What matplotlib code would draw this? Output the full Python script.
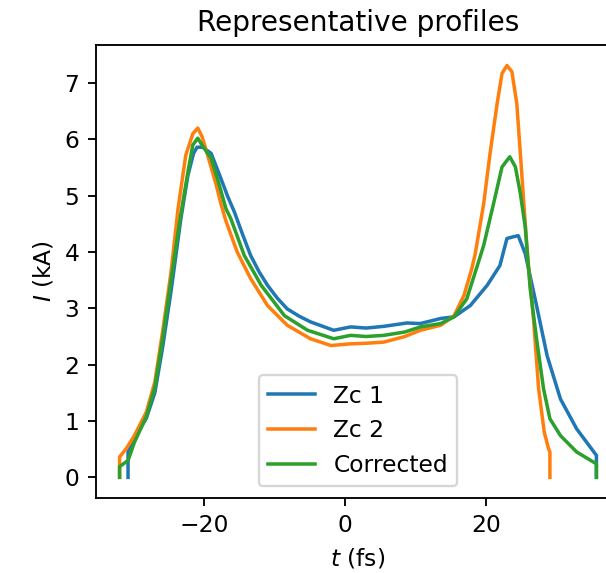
import matplotlib
matplotlib.use("Agg")
import matplotlib.pyplot as plt

# Zc 1 profile (fs, kA)
t_zc1 = [-30.8, -30.8, -29.4, -28.2, -27.0, -25.9, -24.7, -23.3, -22.3, -21.5,
         -21.0, -20.2, -19.0, -17.6, -16.7, -15.7, -14.5, -13.4, -12.2, -11.0,
         -9.6, -8.2, -6.5, -4.9, -1.6, 0.8, 3.0, 5.5, 8.8, 10.7,
         13.6, 15.5, 17.8, 20.2, 22.0, 23.0, 23.9, 24.6, 25.6, 27.2,
         28.7, 30.6, 32.9, 35.7, 35.7]
i_zc1 = [0.0, 0.45, 0.80, 1.05, 1.50, 2.30, 3.30, 4.59, 5.36, 5.75,
         5.86, 5.86, 5.75, 5.30, 5.00, 4.71, 4.30, 3.94, 3.65, 3.41,
         3.18, 2.99, 2.86, 2.76, 2.61, 2.67, 2.65, 2.68, 2.74, 2.73,
         2.82, 2.85, 3.05, 3.41, 3.76, 4.24, 4.27, 4.29, 3.97, 3.05,
         2.16, 1.39, 0.86, 0.39, 0.0]

# Zc 2 profile
t_zc2 = [-32.0, -32.0, -31.0, -29.9, -28.2, -27.0, -25.9, -24.7, -23.7, -22.6,
         -21.6, -20.9, -20.3, -19.5, -18.3, -17.6, -16.9, -15.3, -13.4, -11.0,
         -8.2, -4.9, -2.0, 0.8, 3.0, 5.5, 8.5, 10.7, 13.6, 15.5,
         16.9, 18.0, 18.5, 19.7, 20.6, 21.6, 22.3, 23.0, 23.7, 24.4,
         24.9, 25.4, 25.9, 26.8, 27.5, 28.3, 28.9, 29.1, 29.1]
i_zc2 = [0.0, 0.36, 0.52, 0.74, 1.16, 1.69, 2.58, 3.64, 4.77, 5.72,
         6.10, 6.20, 6.05, 5.72, 5.20, 4.85, 4.55, 4.00, 3.53, 3.05,
         2.70, 2.46, 2.34, 2.37, 2.38, 2.40, 2.50, 2.61, 2.70, 2.87,
         3.23, 3.70, 3.97, 4.86, 5.75, 6.63, 7.17, 7.31, 7.20, 6.63,
         5.75, 4.86, 3.97, 2.76, 1.57, 0.80, 0.51, 0.45, 0.0]

# corrected profile
t_corr = [-32.0, -32.0, -30.8, -29.9, -28.2, -27.0, -25.9, -24.7, -23.5, -22.3,
          -21.6, -20.9, -20.3, -19.0, -18.1, -16.9, -16.2, -14.3, -11.9, -8.6,
          -5.3, -1.6, 0.8, 3.0, 5.5, 8.5, 10.7, 13.6, 15.5, 17.3,
          18.8, 19.7, 21.1, 22.3, 23.4, 24.2, 24.9, 25.6, 26.3, 27.2,
          28.2, 29.1, 30.6, 32.9, 35.7, 35.7]
i_corr = [0.0, 0.19, 0.30, 0.62, 1.08, 1.60, 2.45, 3.50, 4.52, 5.42,
          5.90, 6.02, 5.90, 5.66, 5.30, 4.77, 4.59, 3.94, 3.41, 2.87,
          2.61, 2.46, 2.52, 2.50, 2.52, 2.58, 2.67, 2.73, 2.85, 3.17,
          3.76, 4.12, 4.86, 5.51, 5.69, 5.51, 5.04, 4.44, 3.35, 2.46,
          1.57, 1.04, 0.74, 0.45, 0.24, 0.0]

dpi = 168
fig = plt.figure(figsize=(606 / dpi, 573 / dpi), dpi=dpi)
ax = fig.add_axes([0.158, 0.131, 0.8655, 0.7906])

ax.plot(t_zc1, i_zc1, label="Zc 1")
ax.plot(t_zc2, i_zc2, label="Zc 2")
ax.plot(t_corr, i_corr, label="Corrected")

ax.set_title("Representative profiles")
ax.set_xlabel("$t$ (fs)")
ax.set_ylabel("$I$ (kA)")
ax.legend(loc="lower center")

fig.savefig("out.png", dpi=dpi)
